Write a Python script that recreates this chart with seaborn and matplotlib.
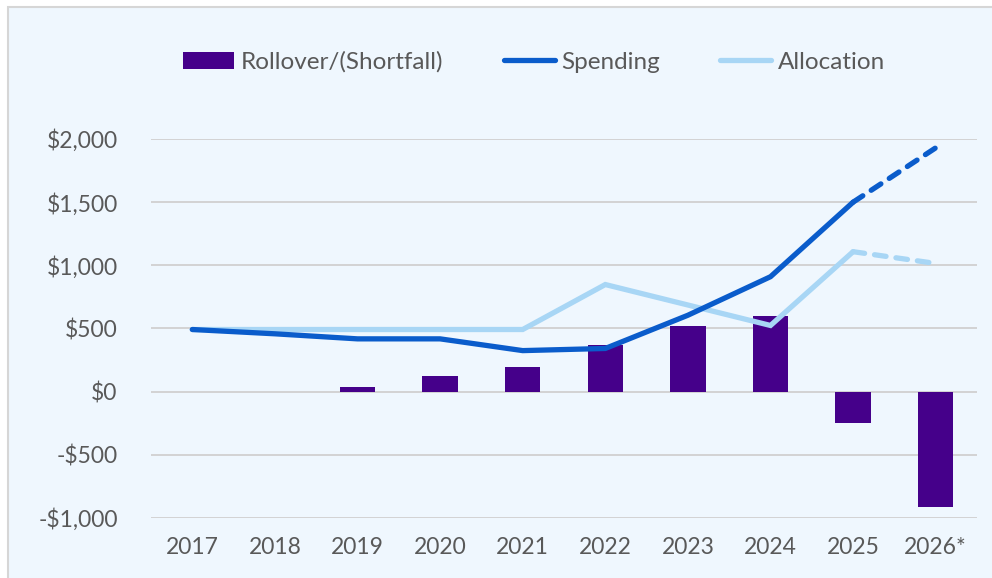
import numpy as np
import pandas as pd
import matplotlib
matplotlib.use("Agg")
import matplotlib.pyplot as plt
from matplotlib.patches import Rectangle, Patch
from matplotlib.lines import Line2D
import seaborn as sns

years = ["2017", "2018", "2019", "2020", "2021", "2022", "2023", "2024", "2025", "2026*"]
rollover = [0, 0, 40, 125, 198, 367, 520, 600, -246, -915]
spending = [492, 458, 418, 418, 325, 342, 605, 910, 1500, 1930]
allocation = [492, 492, 492, 492, 492, 848, 686, 524, 1108, 1015]
yticks = [-1000, -500, 0, 500, 1000, 1500, 2000]
ytick_labels = ["-$1,000", "-$500", "$0", "$500", "$1,000", "$1,500", "$2,000"]
legend_labels = ["Rollover/(Shortfall)", "Spending", "Allocation"]

BG = "#EFF7FE"
PURPLE = "#45008A"
DARK = "#0A5CCB"
LIGHT = "#A8D6F5"
TXT = "#595959"
GRID = "#D0D0D0"

sns.set_theme(style="white")
plt.rcParams["font.family"] = ["Lato", "DejaVu Sans"]

fig = plt.figure(figsize=(9.92, 5.78), dpi=100)
fig.patch.set_facecolor("white")
fig.patches.append(Rectangle((8 / 992, -0.1), 1.2, 1 - 7 / 578 + 0.1,
                             transform=fig.transFigure, facecolor=BG,
                             edgecolor="#D6D6D6", linewidth=1.5, zorder=-10))

ax = fig.add_axes([151 / 992, 1 - 518 / 578, (977 - 151) / 992, (518 - 139) / 578])
ax.set_facecolor("none")

df = pd.DataFrame({"year": years, "rollover": rollover,
                   "spending": spending, "allocation": allocation,
                   "pos": np.arange(len(years))})

sns.barplot(data=df, x="year", y="rollover", color=PURPLE, width=0.43,
            saturation=1, ax=ax, zorder=2, linewidth=0)

solid = df.iloc[:-1]
dashed = df.iloc[-2:]
lw = 3.8
sns.lineplot(data=solid, x="pos", y="allocation", color=LIGHT, linewidth=lw,
             ax=ax, zorder=3, sort=False, solid_capstyle="round", solid_joinstyle="miter")
sns.lineplot(data=dashed, x="pos", y="allocation", color=LIGHT, linewidth=lw,
             ax=ax, zorder=3, sort=False)
ax.lines[-1].set_dashes([2.2, 1.9])
ax.lines[-1].set_dash_capstyle("round")
sns.lineplot(data=solid, x="pos", y="spending", color=DARK, linewidth=lw,
             ax=ax, zorder=4, sort=False, solid_capstyle="round", solid_joinstyle="miter")
sns.lineplot(data=dashed, x="pos", y="spending", color=DARK, linewidth=lw,
             ax=ax, zorder=4, sort=False)
ax.lines[-1].set_dashes([2.2, 1.9])
ax.lines[-1].set_dash_capstyle("round")

ax.set_xlim(-0.5, len(years) - 0.5)
ax.set_ylim(-1000, 2000)
ax.set_yticks(yticks)
ax.set_yticklabels(ytick_labels)
ax.set_xticks(np.arange(len(years)))
ax.set_xticklabels(years)
ax.set_xlabel("")
ax.set_ylabel("")
for y in yticks:
    ax.axhline(y, color=GRID, linewidth=1.3, zorder=1)
for s in ax.spines.values():
    s.set_visible(False)
ax.tick_params(axis="both", length=0, labelsize=16.5, labelcolor=TXT)
ax.tick_params(axis="y", pad=24)
ax.tick_params(axis="x", pad=14)

handles = [Patch(facecolor=PURPLE, edgecolor="none"),
           Line2D([0], [0], color=DARK, linewidth=lw, solid_capstyle="round"),
           Line2D([0], [0], color=LIGHT, linewidth=lw, solid_capstyle="round")]
leg = fig.legend(handles, legend_labels, loc="center", bbox_to_anchor=(534 / 992, 1 - 62 / 578),
                 ncol=3, frameon=False, fontsize=17.5, handlelength=2.1, handleheight=0.7,
                 handletextpad=0.25, columnspacing=2.5, labelcolor=TXT)

fig.savefig("out.png", dpi=100, facecolor=fig.get_facecolor())
